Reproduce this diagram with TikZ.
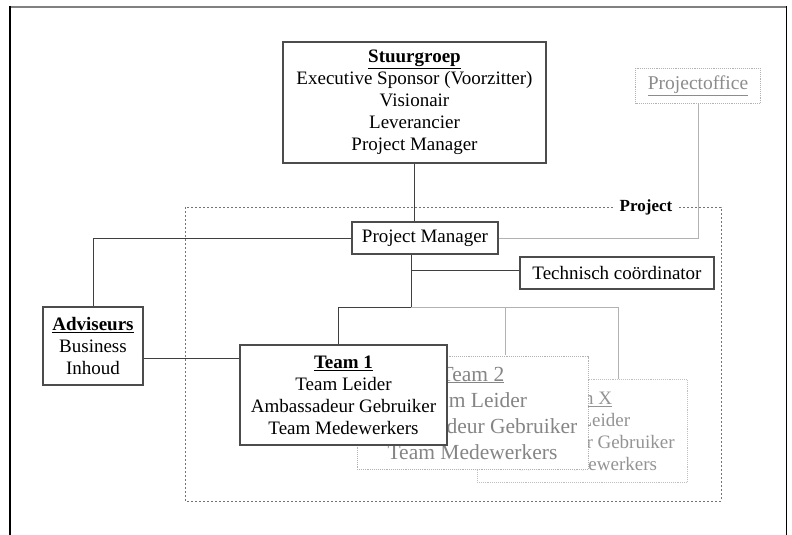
\documentclass[tikz,border=0pt]{standalone}
\usepackage{fontspec}
\setmainfont{Liberation Serif}
\begin{document}
\begin{tikzpicture}[x=1pt,y=-1pt,
  txt/.style={font=\fontsize{19}{22}\selectfont, align=center},
  box/.style={draw=black!70, line width=1.1pt, fill=white, txt, inner sep=0pt},
  ghost/.style={draw=black!30, line width=0.9pt, densely dotted, fill=white, inner sep=0pt},
  link/.style={draw=black!75, line width=1pt},
  glink/.style={draw=black!30, line width=0.9pt}]
\useasboundingbox (0,0) rectangle (792,535);

% outer frame (open at the bottom)
\draw[black!50, line width=2pt] (10,7) -- (786.5,7);
\draw[black, line width=1.2pt] (10,6) -- (10,535);
\draw[black, line width=1.2pt] (786.5,6) -- (786.5,535);

% project boundary
\draw[black!55, line width=0.9pt, dash pattern=on 2pt off 2pt] (185,207) rectangle (721,501);
\node[fill=white, inner xsep=6pt, inner ysep=1pt, font=\fontsize{17}{20}\selectfont\bfseries] (projlbl) at (646,207) {Project};

% boxes
\node[box, minimum width=263, minimum height=121] (sg) at (414.5,102.5)
  {\textbf{\underline{Stuurgroep}}\\Executive Sponsor (Voorzitter)\\Visionair\\Leverancier\\Project Manager};
\node[ghost, minimum width=125, minimum height=35, text=black!45,
      font=\fontsize{19.5}{22}\selectfont] (po) at (698,86) {\underline{Projectoffice}};
\node[box, minimum width=146, minimum height=32] (pm) at (425,238) {Project Manager};
\node[box, minimum width=194, minimum height=32] (tc) at (617,273) {Technisch coördinator};
\node[box, minimum width=100, minimum height=78] (adv) at (93,346)
  {\textbf{\underline{Adviseurs}}\\Business\\Inhoud};

% connectors
\coordinate (j1) at (411,270);
\coordinate (j2) at (411,307);
\coordinate (t1top) at (338,307);
\coordinate (t2top) at (505,307);
\coordinate (txtop) at (618,307);
\draw[link] (sg.south) -- (sg.south |- pm.north);
\draw[link] (pm.west) -| (adv.north);
\draw[glink] (pm.east) -| (po.south);
\draw[link] (pm.south -| j1) -- (j2) -- (t1top) -- (t1top |- 0,345);
\draw[link] (j1) -- (j1 -| tc.west);
\draw[glink] (j2) -- (txtop) -- (txtop |- 0,379);
\draw[glink] (t2top) -- (t2top |- 0,355);

% teams, back to front
\node[ghost, draw=black!25, minimum width=210, minimum height=103, text=black!42,
      align=center, font=\fontsize{19}{22}\selectfont] (tx) at (582,431)
  {\underline{Team X}\\Team Leider\\Ambassadeur Gebruiker\\Team Medewerkers};
\node[ghost, minimum width=231, minimum height=113, text=black!48,
      align=center, font=\fontsize{21.5}{26}\selectfont] (t2) at (472.5,413)
  {\underline{Team 2}\\Team Leider\\Ambassadeur Gebruiker\\Team Medewerkers};
\node[box, line width=1.6pt, minimum width=207, minimum height=100] (t1) at (343.5,395)
  {\textbf{\underline{Team 1}}\\Team Leider\\Ambassadeur Gebruiker\\Team Medewerkers};

\draw[link] ([yshift=-12pt]adv.east) -- ([yshift=-12pt]adv.east -| t1.west);
\end{tikzpicture}
\end{document}
